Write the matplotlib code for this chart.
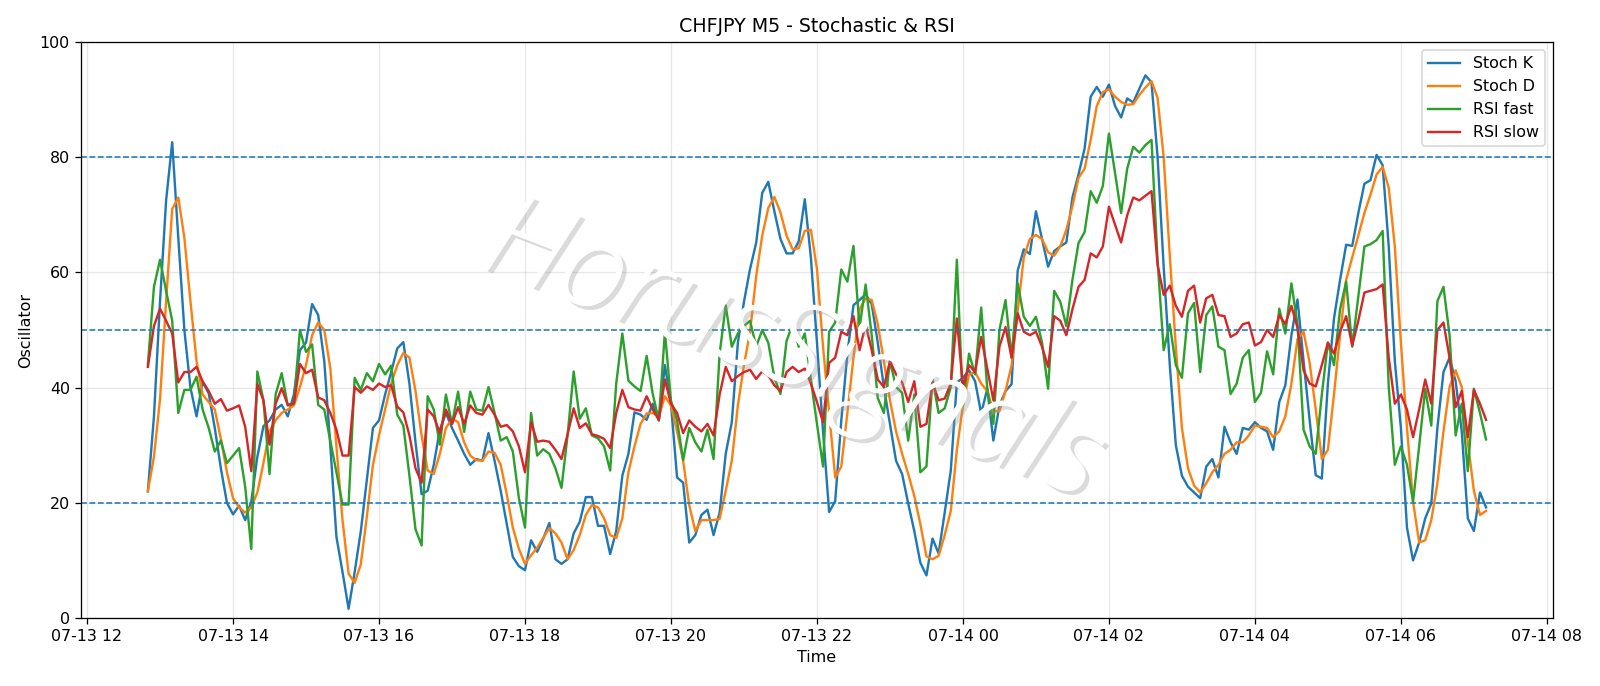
import matplotlib
matplotlib.use("Agg")
import matplotlib.pyplot as plt
import matplotlib.dates as mdates
import matplotlib.patheffects as pe
import pandas as pd

# 5-minute bars, 07-13 12:50 -> 07-14 07:10
start = "2024-07-13 12:50"
n_bars = 221

stoch_k = [
    22, 35, 55, 72.5, 82.6, 66, 50, 40, 35, 41, 39, 33, 26, 20, 18, 19.5, 17, 20.2, 28, 33.3,
    34.3, 36.2, 37, 35, 38.8, 46.5, 47.8, 54.5, 52.6,
    44.6, 29.8, 14.1, 8, 1.6, 8, 15, 24, 33, 34.3, 38.8, 42.7, 46.8, 47.9, 40.7, 30.5, 21.5, 22.1,
    26.6, 32.7, 35.6, 33, 30.8, 28.5, 26.6, 27.6, 27.3, 32.1, 27.3, 22.1, 16.3, 10.6, 9,
    8.3, 13.5, 11.5, 13.8, 16.5, 10.2, 9.4, 10.2, 14.7, 16.7, 21, 21, 16, 16, 11.1, 15.1, 24.7,
    28.5, 35.7, 35.3, 34.4, 37.2, 34.3, 43.9, 37.2, 24.4, 23.5, 13.1, 14.4, 17.9, 18.8,
    14.4, 18.3, 28.5, 34, 47.8, 54.9, 60.6, 65.1, 73.8, 75.7, 70.6, 65.8, 63.3, 63.3, 65.4, 72.7,
    62.6, 47.8, 32.4, 18.4, 20.3, 34.3, 45.9, 54.3, 55.2, 56.2, 54.5, 47.8, 40.1, 33.7, 27.3,
    25, 19.9, 15.1, 9.6, 7.4, 13.8, 11.2, 18.3, 25.6, 40.9, 41.7, 43, 41.1, 35.5, 39.8, 30.8,
    36.9, 39.4, 40.6, 60.3, 64, 63.2, 70.6, 65.8, 61, 63.7, 64.5, 65.2, 73, 77, 81.5,
    90.5, 92.2, 90.5, 92.6, 88.9, 86.9, 90.2, 89.5, 91.9, 94.2, 93, 80, 61, 44, 30, 24.7, 22.8,
    21.8, 20.8, 26.3, 27.6, 24.4, 33.2, 30.5, 28.5, 33, 32.7, 34, 33, 32.4, 29.2, 37.5,
    40.4, 49.1, 55.3, 44.6, 34.3, 24.8, 24.2, 40.7, 52, 58.7, 64.8, 64.6, 70.3, 75.4, 76, 80.4,
    78.6, 64.5, 44.6, 33, 15.7, 10, 13.1, 17.3, 19.9, 33, 42.7, 45.2, 41.1, 32.4, 17.3, 15.1,
    21.8, 19.2,
]

stoch_d = [
    22, 28, 38, 55, 71, 73, 66, 55, 44.6, 38.8, 37.5, 36.2, 31.1, 25.3, 20.8, 19.2, 18.3, 19.2,
    21.8, 26.9, 32.4, 34.3, 35.6, 36.2, 36.9, 40.1, 43.9, 49.1, 51.3,
    50, 43.3, 29.8, 17, 7.7, 6.1, 9.3, 17.6, 26.6, 31.7, 36.2, 40.7, 43.9, 46, 45.2, 39.4, 31.7,
    25.6, 25, 28.5, 33, 34.6, 34, 30.5, 28.2, 27.4, 27.3, 28.9, 28.7, 26.6, 21.5, 15.7, 12,
    9.4, 10.9, 12.2, 13.9, 15.6, 14.7, 13.1, 10.2, 11.8, 14.4, 17.9, 19.6, 19.2, 17.3, 14.4, 13.9,
    17.3, 25.3, 29.8, 33.7, 35.5, 35.6, 35, 38.5, 36.9, 32.4, 27.3, 19.6, 15.1, 17, 17,
    17, 17.2, 22.1, 27.3, 36.9, 43.9, 49.7, 59.3, 66.4, 71.2, 73.1, 70.4, 66.4, 64, 64.2, 67.2,
    67.4, 60.6, 47.1, 35.6, 24.4, 26.3, 35.6, 45.2, 53.6, 55.5, 55.2, 51, 44.6, 37.8, 32.4,
    28.5, 25, 21.2, 16.3, 10.7, 10.2, 10.8, 14.4, 18.6, 29.2, 36.9, 42.3, 42.7, 40.7, 39.4, 35.9,
    35.9, 39.4, 43.9, 53.2, 62.6, 65.8, 66.5, 65.8, 63.5, 62.9, 64.5, 67.4, 71.5, 76.4, 78,
    83, 88.9, 91.3, 91.8, 90.5, 89.6, 89.1, 89.2, 90.8, 92.1, 93.2, 90.3, 80, 63, 47, 33, 26,
    23, 21.8, 23.4, 25.3, 26.6, 28.5, 29.2, 30.5, 30.5, 31.7, 33.4, 33.2, 33, 31.4, 32.4,
    35, 40.7, 48.4, 49.7, 44.3, 36.2, 27.6, 29.2, 38.8, 49.1, 58.7, 62.6, 66.4, 70.3, 73.5, 77,
    78.3, 74.7, 64.5, 47.8, 33, 20.2, 13.1, 13.5, 17, 23.4, 32.4, 40.1, 43, 40.1, 30.5, 22.1,
    17.9, 18.6,
]

rsi_fast = [
    44, 57.5, 62.2, 56.8, 51.6, 35.6, 39.6, 39.6, 41.9, 36.2, 33, 28.9, 30.8, 26.9, 28.2, 29.5,
    22.8, 12, 42.8, 37.8, 25, 38.8, 42.5, 36.9, 37.2, 50, 46.2, 47.5, 37,
    36.2, 30.8, 25.3, 19.7, 19.7, 41.7, 39.6, 42.5, 41.1, 44.1, 42.3, 43.8, 35.3, 33.4, 24.7, 15.4,
    12.6, 38.5, 36.2, 30.1, 38.8, 33.7, 39.3, 32.3, 39.3, 36.2, 36, 40.1, 35.6, 30.8, 31.4, 28.9, 20.8,
    15.7, 35.6, 28.2, 29.3, 28.5, 26, 22.6, 31.7, 42.8, 34.6, 36.4, 31.7, 31.2, 29.8, 25.6, 40.7,
    49.4, 41.2, 40.2, 39.4, 45.5, 38.9, 34.3, 49.7, 37.7, 34.3, 27.4, 33, 30.5, 28.9, 32.7,
    27.6, 45.9, 54.3, 47.1, 49.4, 50.7, 51.6, 47.1, 50, 47.8, 41.7, 38.9, 48.1, 51, 47.1, 49.4,
    41.4, 33.7, 26.3, 49.7, 51.3, 60.5, 58.4, 64.6, 50.4, 57.9, 49.1, 38.2, 35.6, 44.6, 40.1,
    39.1, 30.8, 38.8, 25.3, 26.3, 41.5, 35.6, 36.4, 40.1, 62.2, 36.9, 45.9, 42.3, 53.9, 39.8, 33.7,
    50, 55.2, 45.2, 58.1, 52.3, 50.7, 52.3, 47.8, 39.8, 56.8, 54.9, 50.7, 58.7, 65.1, 67,
    74.1, 72.1, 75, 84.1, 77.3, 70.3, 78, 81.8, 80.8, 82.1, 83, 62, 46.5, 51, 43.9, 41.7, 52.9,
    54.7, 42.7, 52.6, 54.1, 47.1, 46.5, 38.9, 40.7, 45.2, 46.5, 37.5, 39.1, 46.3, 42.3, 53.7,
    49.4, 58.1, 51, 32.7, 29.8, 28.5, 38.8, 47.8, 43.9, 53.6, 58.4, 47.1, 55.8, 64.5, 64.9, 65.6,
    67.2, 40.1, 26.6, 29.8, 26.6, 20.2, 29.8, 39.8, 33.4, 55, 57.5, 49.1, 31.7, 37.2, 25.5, 39.8,
    35.6, 31,
]

rsi_slow = [
    43.6, 50.7, 53.7, 51.6, 49.4, 40.9, 42.7, 42.7, 43.6, 41.1, 39.4, 37.2, 38, 36, 36.4, 36.9,
    33.2, 25.5, 40.6, 37.8, 30.1, 37.2, 39.9, 37, 37.2, 44.1, 42.5, 43.1, 38.3,
    37.8, 35.6, 32.7, 28.2, 28.2, 40.1, 39.1, 40.2, 39.6, 40.7, 40.1, 40.4, 36.7, 35.7, 31.7, 26,
    23.5, 36.2, 35, 32.1, 36.2, 33.7, 36.6, 33.7, 36.9, 35.6, 35.3, 37, 35.3, 33.2, 33.5, 32.4, 29.8,
    25.3, 34, 30.6, 30.8, 30.6, 29.2, 27.6, 31.9, 36.4, 33, 33.8, 31.9, 31.6, 31.1, 29.5, 35.6,
    39.6, 36.6, 36.2, 36, 38.5, 36.2, 34.4, 41.4, 37.2, 35.6, 32.1, 34.3, 33.2, 32.4, 33.7,
    31.7, 38.8, 43.6, 41.1, 42, 42.7, 43.1, 41.5, 42.8, 42.1, 40.4, 39.4, 42.7, 43.6, 42.7, 43.3,
    40.7, 37.5, 34, 44.3, 45.2, 49.7, 49.1, 52.4, 46.5, 51, 46.5, 41.4, 40.1, 44.6, 42.3,
    40.9, 37.5, 41.1, 33.2, 33.7, 40.9, 37.8, 38.1, 40.7, 52, 40.1, 43.9, 42.7, 48.8, 43.3, 37.8,
    47.1, 50.5, 45.2, 52.9, 49.7, 49.1, 49.7, 47.1, 43.6, 52.4, 51.6, 49.1, 53.6, 57.5, 58.7,
    63.3, 62.6, 64.5, 71.4, 68.3, 65.2, 69.9, 73, 72.5, 73.3, 74.1, 61.3, 56.1, 57.7, 54.2, 52.3,
    56.8, 57.7, 51.3, 55.5, 56.1, 52.6, 52.4, 48.8, 49.4, 51, 51.3, 47.3, 47.9, 50, 48.8, 52.6,
    51, 54.2, 50.4, 43, 40.7, 40.2, 43.9, 47.8, 45.9, 49.7, 52.4, 47.3, 51.6, 56.5, 56.8, 57.1,
    57.9, 45.2, 37.2, 38.8, 36.2, 31.4, 36.2, 41.4, 37.2, 50, 51.3, 45.2, 36.6, 39.4, 31.4, 39.6,
    37.2, 34.4,
]

levels = [20, 50, 80]

times = pd.date_range(start, periods=n_bars, freq="5min")

dpi = 1600 / 14
fig = plt.figure(figsize=(14, 686 / dpi), dpi=dpi)
ax = fig.add_axes([0.0506, 0.0991, 0.92, 0.8397])

ax.plot(times, stoch_k, label="Stoch K")
ax.plot(times, stoch_d, label="Stoch D")
ax.plot(times, rsi_fast, label="RSI fast")
ax.plot(times, rsi_slow, label="RSI slow")

for lvl in levels:
    ax.axhline(lvl, color="C0", linestyle="--", linewidth=1)

ax.set_ylim(0, 100)
ax.grid(True, alpha=0.3)
ax.xaxis.set_major_locator(mdates.HourLocator(byhour=range(0, 24, 2)))
ax.xaxis.set_major_formatter(mdates.DateFormatter("%m-%d %H"))
ax.set_title("CHFJPY M5 - Stochastic & RSI")
ax.set_xlabel("Time")
ax.set_ylabel("Oscillator")
ax.legend(loc="upper right")

# watermark: white letters with a grey drop shadow, drawn over the lines
ax.text(0.483, 0.46, "HorusSignals", transform=ax.transAxes, ha="center", va="center",
        fontsize=74, family="Open Sans", fontweight="light", style="italic",
        color="white", alpha=0.85, rotation=-21, zorder=5,
        path_effects=[pe.withSimplePatchShadow(offset=(2.5, -2.5), shadow_rgbFace="0.6", alpha=0.35),
                      pe.Normal()])

fig.savefig("out.png", dpi=dpi)
